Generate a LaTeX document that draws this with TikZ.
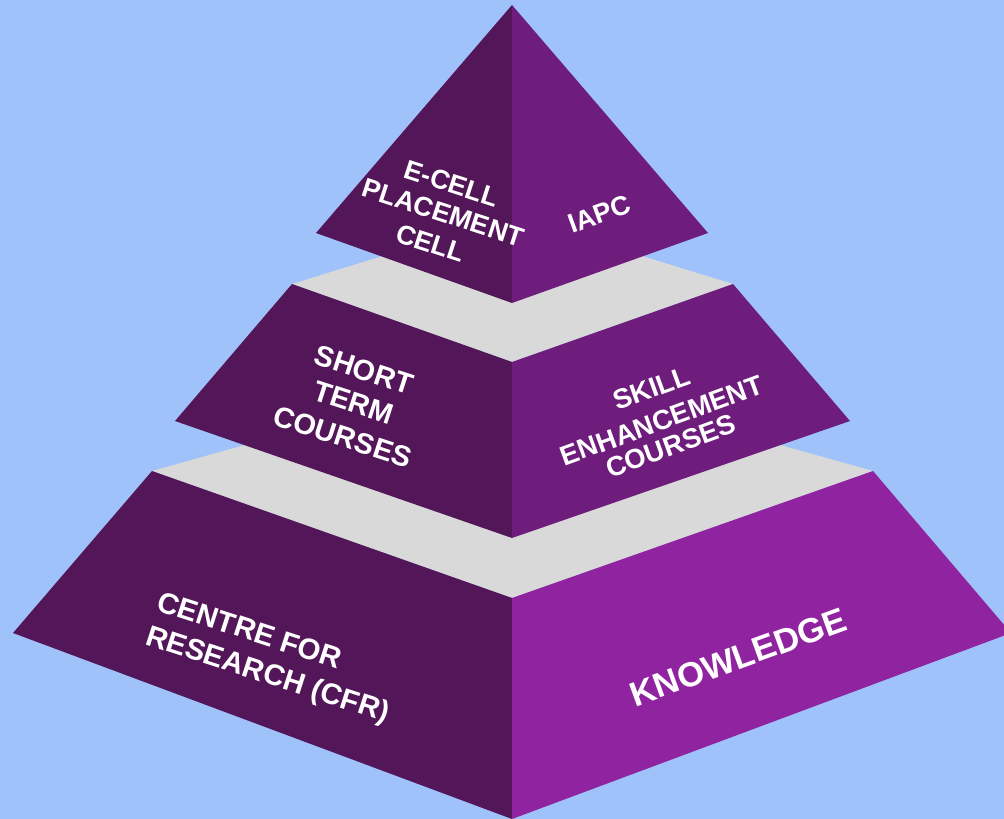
\documentclass[tikz,border=0pt]{standalone}
\usepackage{fontspec}
\setmainfont{Liberation Sans}
\definecolor{bgblue}{HTML}{A0C2FA}
\definecolor{darkface}{HTML}{531659}
\definecolor{midface}{HTML}{6E1D7C}
\definecolor{brightface}{HTML}{9024A0}
\definecolor{topgray}{HTML}{D9D9D9}
\begin{document}
\begin{tikzpicture}[x=1pt,y=-1pt,
  lbl/.style={text=white, inner sep=0pt, font=\bfseries\fontsize{27}{32}\selectfont},
  lblmidl/.style={text=white, inner sep=0pt, font=\bfseries\fontsize{29}{34}\selectfont},
  lblmidr/.style={text=white, inner sep=0pt, font=\bfseries\fontsize{27.5}{33}\selectfont},
  lblbig/.style={text=white, inner sep=0pt, font=\bfseries\fontsize{29.5}{35}\selectfont},
  lblhuge/.style={text=white, inner sep=0pt, font=\bfseries\fontsize{34.5}{41}\selectfont},
  leftrot/.style={rotate=-18},
  rightrot/.style={rotate=20}]
\fill[bgblue] (0,0) rectangle (1004,819);
\useasboundingbox (0,0) rectangle (1004,819);
% bottom tier
\fill[topgray] (152,471) -- (512,370) -- (873,471) -- (512,598) -- cycle;
\fill[darkface] (152,471) -- (13,633) -- (512,819) -- (512,598) -- cycle;
\fill[brightface] (873,471) -- (1011,633) -- (512,819) -- (512,598) -- cycle;
% middle tier
\fill[topgray] (292,284) -- (512,216) -- (733,284) -- (512,362) -- cycle;
\fill[darkface] (292,284) -- (175,421) -- (512,538) -- (512,362) -- cycle;
\fill[midface] (733,284) -- (850,421) -- (512,538) -- (512,362) -- cycle;
% top tier
\fill[darkface] (512,5) -- (316,233) -- (512,303) -- cycle;
\fill[midface] (512,5) -- (708,233) -- (512,303) -- cycle;
% labels
\node[lbl,leftrot] (ecell) at (451.7,183.3) {E-CELL};
\node[lbl,leftrot] (placement) at (443.3,212.7) {PLACEMENT};
\node[lbl,leftrot] (cell) at (430.7,243.3) {CELL};
\node[lbl,rightrot] (iapc) at (599.3,214) {IAPC};
\node[lblmidl,leftrot] (short) at (364,370) {SHORT};
\node[lblmidl,leftrot] (term) at (353.3,402.7) {TERM};
\node[lblmidl,leftrot] (courses1) at (342.7,436.7) {COURSES};
\node[lblmidr,rightrot] (skill) at (651.7,388.3) {SKILL};
\node[lblmidr,rightrot] (enh) at (661.7,420.7) {ENHANCEMENT};
\node[lblmidr,rightrot] (courses2) at (670.7,446) {COURSES};
\node[lblbig,leftrot] (centre) at (250,630) {CENTRE FOR};
\node[lblbig,leftrot] (research) at (267.3,676) {RESEARCH (CFR)};
\node[lblhuge,rightrot] (knowledge) at (738.3,657.3) {KNOWLEDGE};
\end{tikzpicture}
\end{document}
